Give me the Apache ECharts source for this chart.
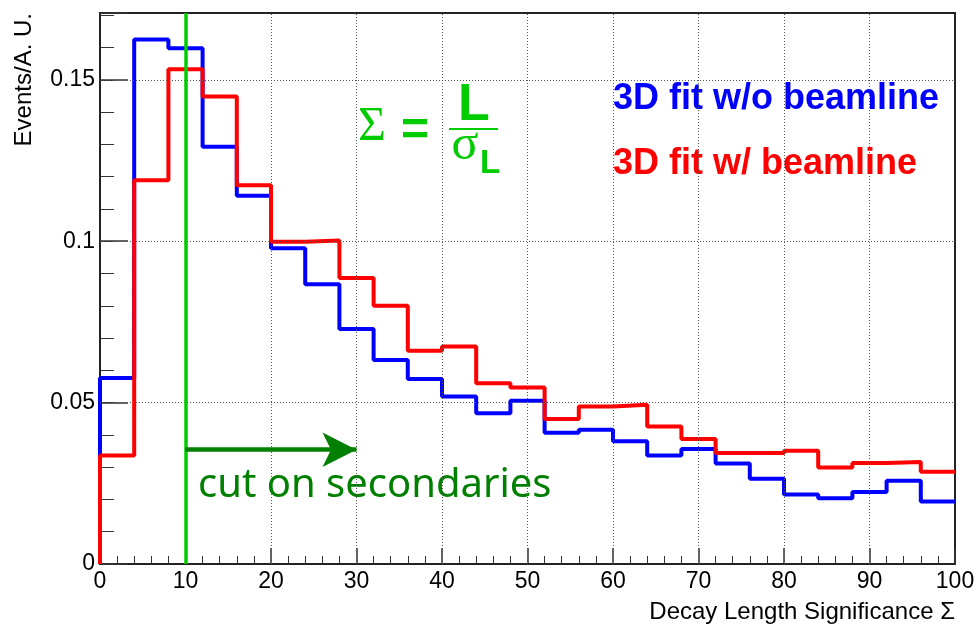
<!DOCTYPE html>
<html>
<head>
<meta charset="utf-8">
<script src="https://cdn.jsdelivr.net/npm/echarts@6/dist/echarts.min.js"></script>
<style>
  html, body { margin: 0; padding: 0; background: #fff; }
  #chart { width: 978px; height: 624px; }
</style>
</head>
<body>
<div id="chart"></div>
<script>
// bin edges of the histogram (width 4)
const binEdges = [0, 4, 8, 12, 16, 20, 24, 28, 32, 36, 40, 44, 48, 52, 56, 60, 64, 68, 72, 76, 80, 84, 88, 92, 96, 100]
// 3D fit w/o beamline
const blueVals = [0.0576, 0.1625, 0.1598, 0.1293, 0.1141, 0.0978, 0.0867, 0.0728, 0.0632, 0.0573, 0.0519, 0.0467, 0.0506,
  0.0407, 0.0416, 0.0380, 0.0336, 0.0356, 0.0311, 0.0264, 0.0215, 0.0204, 0.0223, 0.0258, 0.0194]
// 3D fit w/ beamline
const redVals = [0.0336, 0.1189, 0.1533, 0.1448, 0.1173, 0.0998, 0.1002, 0.0886, 0.0800, 0.0661, 0.0674, 0.0560, 0.0547,
  0.0449, 0.0488, 0.0493, 0.0426, 0.0387, 0.0344, 0.0344, 0.0351, 0.0299, 0.0313, 0.0316, 0.0286]
const xGridVals = [10, 20, 30, 40, 50, 60, 70, 80, 90]
const yTicks = [0, 0.05, 0.1, 0.15]
const yMax = 0.1707
const cutValue = 10
const arrowEnd = 30
const arrowLevel = 0.0354

// histogram outline: step points at bin edges
function histData(vals) {
  const pts = [[binEdges[0], 0]]
  vals.forEach((v, i) => pts.push([binEdges[i], v]))
  pts.push([binEdges[binEdges.length - 1], vals[vals.length - 1]])
  return pts
}

const chart = echarts.init(document.getElementById('chart'), null, { renderer: 'canvas' })
const axisFont = 'Liberation Sans'
const frameLine = { show: true, onZero: false, lineStyle: { color: '#222', width: 2 } }
const noLabel = { show: false }
const gridStyle = { color: '#555', type: [1, 2], width: 1 }

chart.setOption({
  backgroundColor: '#fff',
  animation: false,
  grid: { left: 100, top: 13, right: 23, bottom: 60, show: false },
  xAxis: [{
    // labels + bottom frame
    type: 'value', min: 0, max: 100, interval: 10,
    axisLine: frameLine,
    axisTick: { show: false },
    axisLabel: { color: '#000', fontSize: 23, fontFamily: axisFont, margin: 6 },
    splitLine: { show: false }
  }, {
    // ticks
    type: 'value', position: 'bottom', min: 0, max: 100, interval: 10,
    axisLine: { show: false, onZero: false },
    axisTick: { show: true, inside: true, length: 16, lineStyle: { color: '#333', width: 1.5 } },
    minorTick: { show: true, splitNumber: 5, length: 8, lineStyle: { color: '#333' } },
    axisLabel: noLabel,
    splitLine: { show: false }
  }, {
    // top frame
    type: 'value', position: 'top', min: 0, max: 100,
    axisLine: frameLine, axisTick: { show: false }, axisLabel: noLabel, splitLine: { show: false }
  }],
  yAxis: [{
    // labels + left frame
    type: 'value', min: 0, max: yMax, interval: 0.05,
    axisLine: frameLine,
    axisTick: { show: false },
    axisLabel: {
      color: '#000', fontSize: 23, fontFamily: axisFont, margin: 5, showMaxLabel: false,
      formatter: v => yTicks.indexOf(Math.round(v * 100) / 100) >= 0 ? String(Math.round(v * 100) / 100) : ''
    },
    splitLine: { show: false }
  }, {
    // minor ticks every 0.01
    type: 'value', position: 'left', min: 0, max: yMax, interval: 0.01,
    axisLine: { show: false, onZero: false },
    axisTick: { show: true, inside: true, length: 14, lineStyle: { color: '#333' } },
    axisLabel: noLabel,
    splitLine: { show: false }
  }, {
    // major ticks
    type: 'value', position: 'left', min: 0, max: yMax, interval: 0.05,
    axisLine: { show: false, onZero: false },
    axisTick: { show: true, inside: true, length: 28, lineStyle: { color: '#333', width: 1.5 } },
    axisLabel: noLabel,
    splitLine: { show: false }
  }, {
    // right frame
    type: 'value', position: 'right', min: 0, max: yMax,
    axisLine: frameLine, axisTick: { show: false }, axisLabel: noLabel, splitLine: { show: false }
  }],
  series: [{
    // dotted grid lines
    name: 'grid',
    type: 'line',
    data: [],
    z: 1,
    markLine: {
      silent: true,
      animation: false,
      symbol: 'none',
      label: { show: false },
      lineStyle: gridStyle,
      data: xGridVals.map(v => ({ xAxis: v })).concat(yTicks.filter(v => v > 0).map(v => ({ yAxis: v })))
    }
  }, {
    name: '3D fit w/o beamline',
    type: 'line',
    step: 'end',
    symbol: 'none',
    clip: false,
    data: histData(blueVals),
    lineStyle: { color: '#0000ff', width: 4 }
  }, {
    name: '3D fit w/ beamline',
    type: 'line',
    step: 'end',
    symbol: 'none',
    clip: false,
    data: histData(redVals),
    lineStyle: { color: '#ff0000', width: 4 }
  }, {
    name: 'cut',
    type: 'line',
    data: [],
    z: 5,
    markLine: {
      silent: true,
      animation: false,
      label: { show: false },
      data: [
        [{ coord: [cutValue, 0], symbol: 'none', lineStyle: { color: '#00cc00', width: 3.5, type: 'solid' } },
         { coord: [cutValue, yMax], symbol: 'none' }],
        [{ coord: [cutValue, arrowLevel], symbol: 'none', lineStyle: { color: '#008000', width: 4.5, type: 'solid' } },
         { coord: [arrowEnd, arrowLevel], symbol: 'arrow', symbolSize: [26, 34] }]
      ]
    }
  }],
  graphic: [
    // axis titles
    { type: 'text', x: 24, y: 13, rotation: Math.PI / 2,
      style: { text: 'Events/A. U.', font: '24px "Liberation Sans"', fill: '#000', textAlign: 'right', textVerticalAlign: 'middle' } },
    { type: 'text', x: 955, y: 612,
      style: { text: 'Decay Length Significance Σ', font: '24px "Liberation Sans"', fill: '#000', textAlign: 'right', textVerticalAlign: 'middle' } },
    // legend texts
    { type: 'text', x: 613, y: 99,
      style: { text: '3D fit w/o beamline', font: 'bold 36px "Liberation Sans"', fill: '#0000ff', textAlign: 'left', textVerticalAlign: 'middle' } },
    { type: 'text', x: 613, y: 164,
      style: { text: '3D fit w/ beamline', font: 'bold 36px "Liberation Sans"', fill: '#ff0000', textAlign: 'left', textVerticalAlign: 'middle' } },
    // cut label
    { type: 'text', x: 198, y: 486,
      style: { text: 'cut on secondaries', font: '40px "Noto Sans"', fill: '#008000', textAlign: 'left', textVerticalAlign: 'middle' } },
    // Sigma = L / sigma_L
    { type: 'text', x: 372, y: 127,
      style: { text: 'Σ', font: '48px "Liberation Serif"', fill: '#00cc00', textAlign: 'center', textVerticalAlign: 'middle' } },
    { type: 'text', x: 415, y: 132,
      style: { text: '=', font: 'bold 48px "Liberation Sans"', fill: '#00cc00', textAlign: 'center', textVerticalAlign: 'middle' } },
    { type: 'text', x: 474, y: 106,
      style: { text: 'L', font: 'bold 52px "Liberation Sans"', fill: '#00cc00', textAlign: 'center', textVerticalAlign: 'middle' } },
    { type: 'line', shape: { x1: 449, y1: 129, x2: 498, y2: 129 }, style: { stroke: '#00cc00', lineWidth: 2 } },
    { type: 'text', x: 465, y: 146,
      style: { text: 'σ', font: '50px "Liberation Serif"', fill: '#00cc00', textAlign: 'center', textVerticalAlign: 'middle' } },
    { type: 'text', x: 490, y: 164,
      style: { text: 'L', font: 'bold 33px "Liberation Sans"', fill: '#00cc00', textAlign: 'center', textVerticalAlign: 'middle' } }
  ]
})
</script>
</body>
</html>
